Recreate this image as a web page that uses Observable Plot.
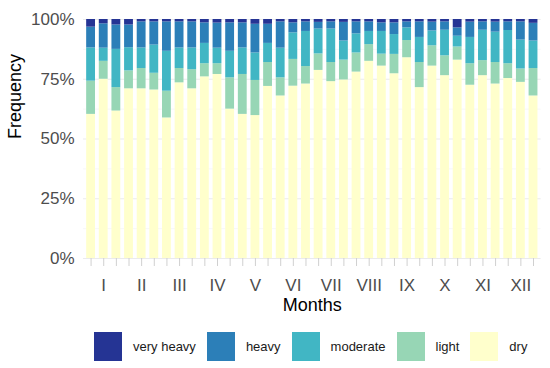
<!DOCTYPE html>
<html><head><meta charset="utf-8">
<script src="https://cdn.jsdelivr.net/npm/d3@7"></script>
<script src="https://cdn.jsdelivr.net/npm/@observablehq/plot@0.6"></script>
<style>
body{margin:0;background:#fff;font-family:"Liberation Sans",Arial,sans-serif;}
#chart{position:relative;width:550px;height:368px;overflow:hidden;}
#chart svg{display:block;}
#legend{position:absolute;left:94px;top:332px;display:flex;align-items:center;height:29px;}
.sw{width:28px;height:29px;margin-right:11px;flex:none;}
.lb{font-size:13px;color:#1a1a1a;margin-right:11px;white-space:nowrap;}
</style></head><body><div id="chart"></div>
<script>
const months = ["I","II","III","IV","V","VI","VII","VIII","IX","X","XI","XII"];
const categories = ["very heavy","heavy","moderate","light","dry"];
const colors = ["#253494","#2c7fb8","#41b6c4","#97d6b5","#ffffcc"];
const dry = [60.3,75.0,61.7,71.0,71.0,70.5,58.8,73.5,71.0,76.0,77.0,62.5,60.3,59.8,72.0,68.0,72.1,73.0,78.7,74.0,74.7,78.0,82.5,80.5,77.3,84.0,71.5,80.5,76.5,83.0,72.5,76.5,73.0,75.3,73.7,68.0];
const light = [13.9,7.5,9.8,7.5,8.5,7.0,11.2,6.0,8.0,5.5,4.5,13.1,16.7,14.7,10.0,7.6,11.2,7.3,6.9,8.0,8.3,8.0,7.0,5.0,8.1,7.2,10.5,8.5,8.3,5.5,9.0,6.3,9.0,6.2,5.6,11.5];
const moderate = [13.9,5.5,16.0,9.7,8.6,11.8,16.7,8.6,9.1,8.5,6.5,11.1,11.1,11.5,8.0,12.4,11.1,14.7,10.4,14.0,8.0,8.0,5.5,9.5,8.3,5.3,10.5,6.2,10.7,4.5,11.0,12.7,12.7,13.9,12.1,11.5];
const heavy = [8.7,10.2,10.2,9.5,10.9,9.7,12.3,10.9,10.9,8.6,10.5,11.9,10.5,12.0,8.0,11.0,4.2,4.0,2.8,3.0,7.8,5.0,4.0,3.6,4.9,2.5,6.5,3.7,3.5,3.5,6.4,3.5,4.2,3.6,7.6,7.4];
const veryHeavy = [3.2,1.8,2.3,2.3,1.0,1.0,1.0,1.0,1.0,1.4,1.5,1.4,1.4,2.0,2.0,1.0,1.4,1.0,1.2,1.0,1.2,1.0,1.0,1.4,1.4,1.0,1.0,1.1,1.0,3.5,1.1,1.0,1.1,1.0,1.0,1.6];

const series = {"dry": dry, "light": light, "moderate": moderate, "heavy": heavy, "very heavy": veryHeavy};
const bars = d3.range(1, dry.length + 1);
const data = [];
bars.forEach((b, i) => {
  for (const c of ["dry","light","moderate","heavy","very heavy"]) data.push({bar: b, cat: c, v: series[c][i]});
});
const tickFmt = d => ((d - 2) % 3 === 0 ? months[(d - 2) / 3] : "");

const plot = Plot.plot({
  width: 550, height: 318,
  marginLeft: 83, marginRight: 9.4, marginTop: 19, marginBottom: 60,
  style: {fontFamily: "Liberation Sans, Arial, sans-serif", background: "#fff"},
  x: {type: "band", domain: bars, paddingInner: 0.3, paddingOuter: 0.25, round: false},
  y: {domain: [0, 1]},
  color: {domain: categories, range: colors},
  marks: [
    Plot.ruleY([0.125, 0.375, 0.625, 0.875], {stroke: "#f2f2f2", strokeWidth: 0.6}),
    Plot.ruleY([0, 0.25, 0.5, 0.75, 1], {stroke: "#ebebeb", strokeWidth: 1.1}),
    Plot.barY(data, Plot.stackY({x: "bar", y: "v", fill: "cat", order: ["dry","light","moderate","heavy","very heavy"], offset: "normalize"})),
    Plot.axisY({ticks: [0, 0.25, 0.5, 0.75, 1], tickFormat: d3.format(".0%"), tickSize: 0, tickPadding: 9, fontSize: 17, fill: "#4d4d4d", label: null}),
    Plot.axisX({tickSize: 8, tickPadding: 12, tickFormat: tickFmt, fontSize: 17, fill: "#4d4d4d", stroke: "#d0d0d0", label: null}),
    Plot.text(["Frequency"], {frameAnchor: "left", dx: -68.5, rotate: -90, fontSize: 18, fill: "#000", lineAnchor: "middle"}),
    Plot.text(["Months"], {frameAnchor: "bottom", dy: 47, fontSize: 18, fill: "#000", lineAnchor: "middle"})
  ]
});
const chart = document.getElementById("chart");
chart.appendChild(plot);
const legend = document.createElement("div");
legend.id = "legend";
categories.forEach((c, i) => {
  const sw = document.createElement("div");
  sw.className = "sw"; sw.style.background = colors[i];
  const lb = document.createElement("div");
  lb.className = "lb"; lb.textContent = c;
  legend.appendChild(sw); legend.appendChild(lb);
});
chart.appendChild(legend);
</script></body></html>
